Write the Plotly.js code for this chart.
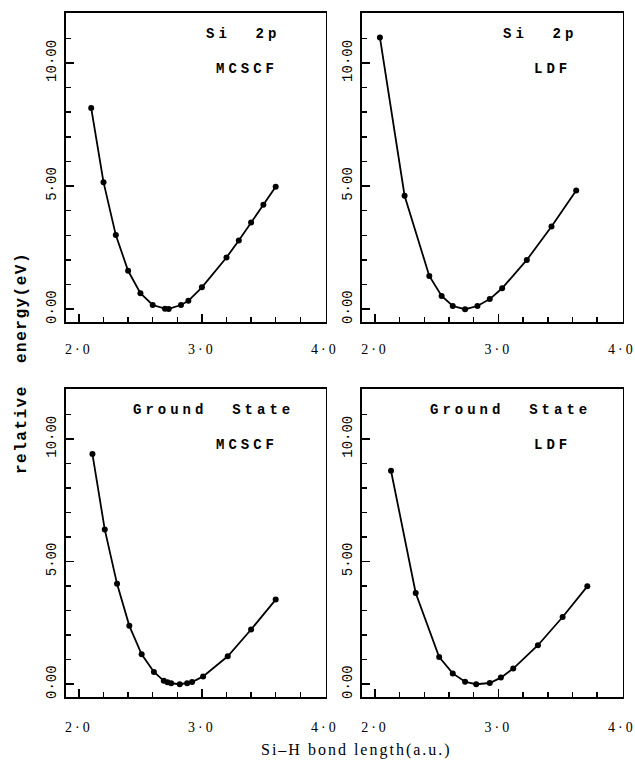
<!DOCTYPE html>
<html>
<head>
<meta charset="utf-8">
<script src="https://cdn.plot.ly/plotly-3.0.1.min.js"></script>
<style>
html,body{margin:0;padding:0;background:#fff;}
#chart{width:635px;height:763px;}
.xtick text,.x2tick text,.x3tick text,.x4tick text{letter-spacing:3px;}
</style>
<style id="annstyle"></style>
</head>
<body>
<div id="chart"></div>
<script>
// ---- data ----
const xSi2pMCSCF = [2.10, 2.20, 2.30, 2.40, 2.50, 2.60, 2.70, 2.73, 2.83, 2.89, 3.00, 3.20, 3.30, 3.40, 3.50, 3.60];
const ySi2pMCSCF = [8.17, 5.16, 3.01, 1.56, 0.65, 0.17, 0.02, 0.01, 0.17, 0.34, 0.89, 2.10, 2.79, 3.52, 4.24, 4.97];

const xSi2pLDF = [2.04, 2.24, 2.44, 2.54, 2.63, 2.73, 2.83, 2.93, 3.03, 3.23, 3.43, 3.63];
const ySi2pLDF = [11.04, 4.61, 1.35, 0.54, 0.13, 0.00, 0.13, 0.41, 0.85, 2.00, 3.36, 4.82];

const xGroundMCSCF = [2.11, 2.21, 2.31, 2.41, 2.51, 2.61, 2.69, 2.72, 2.75, 2.82, 2.88, 2.92, 3.01, 3.21, 3.40, 3.60];
const yGroundMCSCF = [9.38, 6.31, 4.09, 2.38, 1.22, 0.50, 0.14, 0.08, 0.04, 0.00, 0.04, 0.09, 0.32, 1.14, 2.23, 3.45];

const xGroundLDF = [2.13, 2.33, 2.52, 2.63, 2.73, 2.82, 2.93, 3.02, 3.12, 3.32, 3.52, 3.72];
const yGroundLDF = [8.70, 3.72, 1.11, 0.44, 0.10, 0.00, 0.05, 0.27, 0.64, 1.59, 2.74, 3.99];

const xTickVals = [2, 3, 4];
const xTickText = ["2·0", "3·0", "4·0"];
const xMinorTicks = [2.2, 2.4, 2.6, 2.8, 3.2, 3.4, 3.6, 3.8];
const yTickVals = [0, 5, 10];
const yTickText = ["0·00", "5·00", "10·00"];
const yMinorTicks = [1, 2, 3, 4, 6, 7, 8, 9, 11];

const panelLabels = [
  ["Si  2p", "MCSCF"],
  ["Si  2p", "LDF"],
  ["Ground  State", "MCSCF"],
  ["Ground  State", "LDF"]
];
const yTitle = "relative  energy(eV)";
const xTitle = "Si–H bond length(a.u.)";

// ---- layout helpers ----
const W = 635, H = 763;
const px = v => v / W;
const py = v => 1 - v / H;

const colDom = [[px(66), px(325.5)], [px(362), px(622.5)]];
const rowDom = [[py(322), py(13)], [py(697), py(389)]];

function xAxis(dom, anchor, standoff) {
  return {
    domain: dom, anchor: anchor, range: [1.895, 4.005],
    showline: true, mirror: true, linecolor: '#000', linewidth: 1.6,
    showgrid: false, zeroline: false,
    ticks: 'inside', ticklen: 8, tickwidth: 1.5, tickcolor: '#000',
    tickmode: 'array', tickvals: xTickVals, ticktext: xTickText,
    minor: {tickmode: 'array', tickvals: xMinorTicks, ticks: 'inside', ticklen: 5, tickwidth: 1.5, tickcolor: '#000', showgrid: false},
    tickfont: {family: 'Liberation Serif', size: 14, color: '#000'},
    ticklabelstandoff: standoff, ticklabeloverflow: 'allow', fixedrange: true
  };
}
function yAxis(dom, anchor) {
  return {
    domain: dom, anchor: anchor, range: [-0.52, 12.03],
    showline: true, mirror: true, linecolor: '#000', linewidth: 1.6,
    showgrid: false, zeroline: false,
    ticks: 'inside', ticklen: 8, tickwidth: 1.5, tickcolor: '#000',
    tickmode: 'array', tickvals: yTickVals, ticktext: yTickText,
    minor: {tickmode: 'array', tickvals: yMinorTicks, ticks: 'inside', ticklen: 5, tickwidth: 1.5, tickcolor: '#000', showgrid: false},
    tickangle: -90,
    tickfont: {family: 'Liberation Mono', size: 14, color: '#000'},
    ticklabelstandoff: 3, ticklabeloverflow: 'allow', fixedrange: true
  };
}

function series(x, y, xa, ya) {
  return {
    x: x, y: y, xaxis: xa, yaxis: ya, type: 'scatter', mode: 'lines+markers',
    line: {color: '#000', width: 1.8},
    marker: {color: '#000', size: 6},
    hoverinfo: 'skip', showlegend: false
  };
}

const data = [
  series(xSi2pMCSCF, ySi2pMCSCF, 'x', 'y'),
  series(xSi2pLDF, ySi2pLDF, 'x2', 'y2'),
  series(xGroundMCSCF, yGroundMCSCF, 'x3', 'y3'),
  series(xGroundLDF, yGroundLDF, 'x4', 'y4')
];

const annotations = [];
const spacing = [];
function addAnn(text, x, y, xanchor, font, angle, ls) {
  annotations.push({
    text: text, xref: 'paper', yref: 'paper', x: px(x), y: py(y),
    xanchor: xanchor, yanchor: 'middle', showarrow: false,
    font: font, textangle: angle || 0
  });
  spacing.push(ls);
}
const panelFont = {family: 'Liberation Mono', size: 14, color: '#000', weight: 'bold'};
const panelRight = [266, 563, 266, 563];
const panelRowY = [[34, 69], [34, 69], [410, 445], [410, 445]];
panelLabels.forEach((lab, i) => {
  addAnn(lab[0], panelRight[i] + 4, panelRowY[i][0], 'right', panelFont, 0, 4);
  addAnn(lab[1], panelRight[i] + 4, panelRowY[i][1], 'right', panelFont, 0, 4);
});
addAnn(yTitle, 22, 363, 'center', {family: 'Liberation Mono', size: 16, color: '#000', weight: 'bold'}, -90, 1.5);
addAnn(xTitle, 356, 750, 'center', {family: 'Liberation Serif', size: 16, color: '#000'}, 0, 2);

let css = '';
spacing.forEach((ls, i) => {
  css += '.annotation[data-index="' + i + '"] text{letter-spacing:' + ls + 'px;}\n';
});
document.getElementById('annstyle').textContent = css;

const layout = {
  width: W, height: H,
  margin: {l: 0, r: 0, t: 0, b: 0, pad: 0},
  paper_bgcolor: '#fff', plot_bgcolor: '#fff',
  showlegend: false,
  xaxis: xAxis(colDom[0], 'y', 14),
  yaxis: yAxis(rowDom[0], 'x'),
  xaxis2: xAxis(colDom[1], 'y2', 14),
  yaxis2: yAxis(rowDom[0], 'x2'),
  xaxis3: xAxis(colDom[0], 'y3', 17),
  yaxis3: yAxis(rowDom[1], 'x3'),
  xaxis4: xAxis(colDom[1], 'y4', 17),
  yaxis4: yAxis(rowDom[1], 'x4'),
  annotations: annotations
};

Plotly.newPlot('chart', data, layout, {displayModeBar: false, staticPlot: true});
</script>
</body>
</html>
